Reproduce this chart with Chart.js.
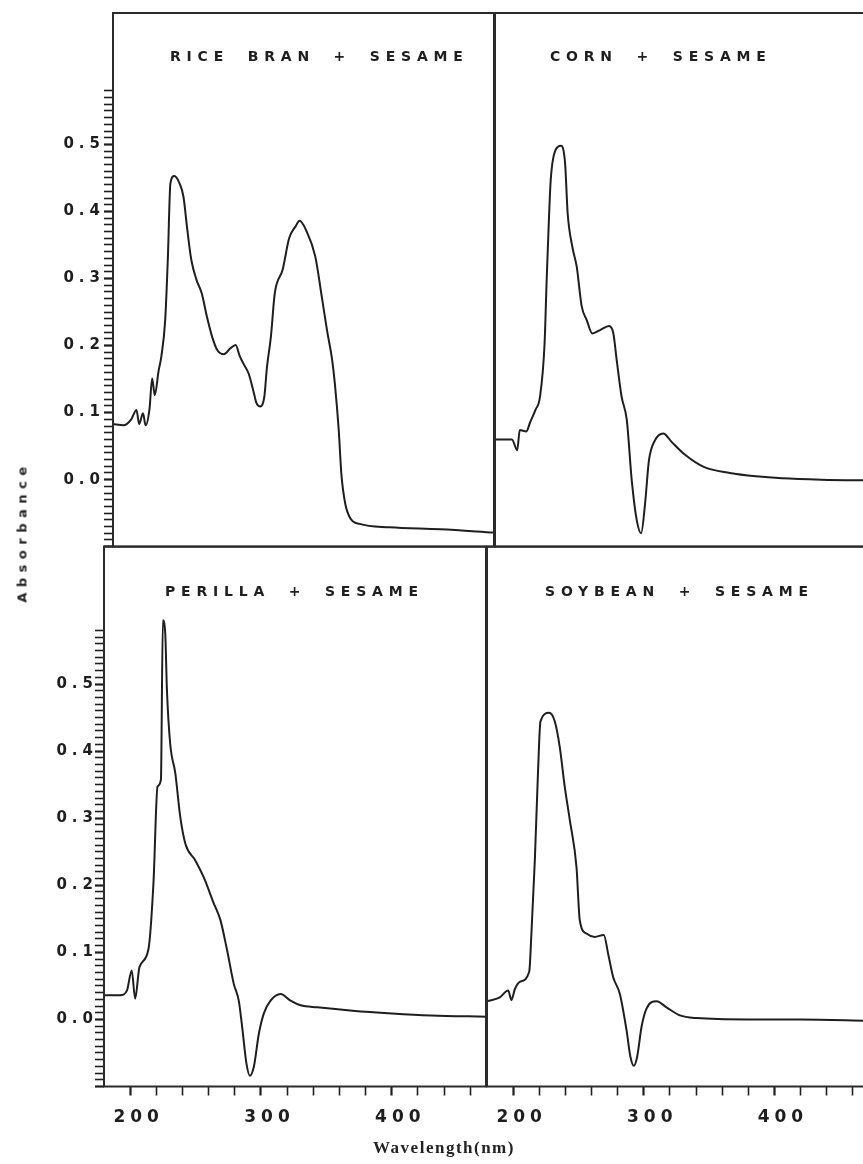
<!DOCTYPE html>
<html lang="en">
<head>
<meta charset="UTF-8">
<title>UV spectra of sesame oil blends</title>
<script src="https://cdn.jsdelivr.net/npm/chart.js"></script>
<style>
  body { margin: 0; background: #fff; }
  #page { position: relative; width: 863px; height: 1164px; overflow: hidden; background: #fff; }
  #page canvas { position: absolute; }
  .axis-title { position: absolute; color: #222; white-space: nowrap; }
  #absTitle {
    left: 22px; top: 532px;
    transform: translate(-50%, -50%) rotate(-90deg);
    font: bold 13px "DejaVu Sans", sans-serif; letter-spacing: 5.5px;
  }
  #nmTitle {
    left: 444px; top: 1148px;
    transform: translate(-50%, -50%);
    font: 600 17px "Liberation Serif", serif; letter-spacing: 1.5px;
  }
</style>
</head>
<body>
<div id="page">
  <canvas id="riceBran" width="500" height="560" style="left:0;top:0"></canvas>
  <canvas id="corn" width="400" height="560" style="left:489px;top:0"></canvas>
  <canvas id="perilla" width="500" height="624" style="left:0;top:540px"></canvas>
  <canvas id="soybean" width="400" height="624" style="left:481px;top:540px"></canvas>
  <div class="axis-title" id="absTitle">Absorbance</div>
  <div class="axis-title" id="nmTitle">Wavelength(nm)</div>
</div>

<script>
// traced spectra: wavelength (nm) and absorbance
const riceBranNm = [180, 188, 194, 198, 200, 203, 205, 208, 210, 212, 215, 217, 220, 222, 224, 227, 231, 234, 237, 240,
  244, 248, 252, 256, 260, 265, 270, 274, 277, 280, 284, 288, 290, 293, 296, 298, 301, 304, 310, 315,
  320, 323, 328, 335, 340, 344, 348, 350, 353, 355, 358, 362, 369, 392, 431, 472];
const riceBranAbs = [0.083, 0.081, 0.090, 0.104, 0.083, 0.099, 0.081, 0.106, 0.151, 0.126, 0.163, 0.183, 0.238, 0.328, 0.442, 0.453, 0.442, 0.422, 0.372, 0.328,
  0.298, 0.278, 0.243, 0.213, 0.193, 0.187, 0.196, 0.201, 0.185, 0.173, 0.158, 0.129, 0.114, 0.109, 0.124, 0.168, 0.213, 0.278, 0.313, 0.360,
  0.378, 0.386, 0.372, 0.333, 0.273, 0.223, 0.178, 0.144, 0.074, 0.009, -0.036, -0.058, -0.066, -0.071, -0.074, -0.079];

const cornNm = [180, 193, 197, 199, 204, 207, 211, 214.5, 218, 219.6, 221, 222.7, 226.5, 230.6, 233.7, 235.7, 239.3, 242.6, 246.5, 250.3,
  254.6, 260.5, 267.4, 270.7, 273.3, 277, 281, 284.8, 288.6, 292, 295, 298, 302.7, 309, 315.5, 325.7, 340, 360, 380, 400, 430, 472];
const cornAbs = [0.060, 0.060, 0.044, 0.074, 0.072, 0.086, 0.104, 0.124, 0.203, 0.298, 0.372, 0.447, 0.492, 0.498, 0.472, 0.397, 0.347, 0.318, 0.258, 0.238,
  0.218, 0.223, 0.229, 0.218, 0.178, 0.124, 0.089, -0.001, -0.060, -0.080, -0.036, 0.029, 0.059, 0.069, 0.056, 0.037, 0.019, 0.010, 0.005, 0.002, 0.000, -0.001];

const perillaNm = [180, 192.3, 197.5, 201.2, 203.8, 207.1, 214, 217.8, 220.9, 223.5, 225, 226.8, 228.1, 230.6, 234.5, 238.3, 242.2, 249.8, 256.2, 263.9,
  269, 274.1, 279.2, 283, 285.6, 288.9, 291.5, 294.5, 298.4, 302.2, 307.3, 315, 322.6, 330.3, 343.1, 370, 400, 430, 472];
const perillaAbs = [0.036, 0.036, 0.043, 0.073, 0.031, 0.078, 0.105, 0.203, 0.347, 0.357, 0.595, 0.576, 0.491, 0.411, 0.367, 0.302, 0.262, 0.237, 0.212, 0.173,
  0.148, 0.103, 0.053, 0.028, -0.011, -0.066, -0.084, -0.071, -0.021, 0.009, 0.028, 0.038, 0.028, 0.021, 0.018, 0.013, 0.009, 0.006, 0.004];

const soybeanNm = [180, 189.8, 196.2, 198.7, 201.3, 205.1, 212.3, 214, 216.6, 219.1, 220.9, 227.5, 231.9, 235.7, 239.5, 243.4, 248.5, 251, 256.1, 262.5,
  269.4, 272.7, 276.6, 281.7, 286.8, 289.8, 292.4, 294.9, 298.3, 302.1, 309.8, 317.4, 327.6, 340.4, 380, 420, 472];
const soybeanAbs = [0.027, 0.033, 0.043, 0.029, 0.045, 0.056, 0.071, 0.128, 0.237, 0.372, 0.444, 0.457, 0.444, 0.406, 0.347, 0.297, 0.227, 0.148, 0.128, 0.123,
  0.126, 0.098, 0.063, 0.038, -0.016, -0.056, -0.069, -0.056, -0.011, 0.016, 0.027, 0.018, 0.006, 0.002, 0.000, 0.000, -0.002];

// axis ticks
const nmTicks = [200, 220, 240, 260, 280, 300, 320, 340, 360, 380, 400, 420, 440, 460];
const nmTickLabels = ['200', '300', '400'];
const absTickLabels = ['0.0', '0.1', '0.2', '0.3', '0.4', '0.5'];

const absTicks = [];
for (let i = -10; i <= 58; i++) absTicks.push(i / 100);

const INK = '#1e1e1e';
const FRAME = '#2b2b2b';
const isTenth = v => Math.abs(v * 10 - Math.round(v * 10)) < 1e-6;

// box around each panel
const panelFrame = {
  id: 'panelFrame',
  afterDraw(chart) {
    const { ctx, chartArea: a } = chart;
    ctx.save();
    ctx.strokeStyle = FRAME;
    ctx.lineWidth = 2;
    ctx.strokeRect(a.left, a.top, a.right - a.left, a.bottom - a.top);
    ctx.restore();
  }
};

// sample name printed inside the panel
const panelTitle = {
  id: 'panelTitle',
  afterDraw(chart, args, opts) {
    const { ctx, chartArea } = chart;
    ctx.save();
    ctx.font = 'bold 14px "DejaVu Sans", sans-serif';
    ctx.letterSpacing = '5.8px';
    ctx.wordSpacing = '8px';
    ctx.fillStyle = INK;
    ctx.textAlign = 'left';
    ctx.textBaseline = 'middle';
    ctx.fillText(opts.text, chartArea.left + opts.dx, chartArea.top + opts.dy);
    ctx.restore();
  }
};

// wide tracking on the tick numbers
const spacedTicks = {
  id: 'spacedTicks',
  beforeDraw(chart) { chart.ctx.letterSpacing = '5px'; }
};

function makePanel(id, nm, abs, cfg) {
  const points = nm.map((x, i) => ({ x, y: abs[i] }));
  const showX = cfg.xHeight > 0;
  const showY = cfg.yWidth > 0;

  return new Chart(document.getElementById(id), {
    type: 'line',
    data: {
      datasets: [{
        data: points,
        borderColor: INK,
        borderWidth: 2,
        pointRadius: 0,
        fill: false,
        cubicInterpolationMode: 'monotone'
      }]
    },
    options: {
      responsive: false,
      animation: false,
      events: [],
      layout: { autoPadding: false, padding: cfg.padding },
      plugins: {
        legend: { display: false },
        tooltip: { enabled: false },
        panelTitle: { text: cfg.title, dx: cfg.titleDx, dy: cfg.titleDy }
      },
      scales: {
        x: {
          type: 'linear',
          min: 180,
          max: 472,
          display: showX,
          border: { display: false },
          grid: {
            drawOnChartArea: false,
            tickLength: 9,
            tickColor: INK,
            tickWidth: c => (c.tick && c.tick.value % 100 === 0 ? 2.2 : 1.6)
          },
          afterBuildTicks: s => { s.ticks = nmTicks.map(v => ({ value: v })); },
          afterFit: s => { if (showX) s.height = cfg.xHeight; },
          ticks: {
            autoSkip: false,
            maxRotation: 0,
            padding: 12,
            labelOffset: 8.5,
            color: INK,
            font: { family: "'DejaVu Sans', sans-serif", weight: 'bold', size: 17 },
            callback: v => (nmTickLabels.includes(String(v)) ? String(v) : '')
          }
        },
        y: {
          type: 'linear',
          min: -0.1,
          max: cfg.absMax,
          display: showY,
          border: { display: false },
          grid: {
            drawOnChartArea: false,
            tickLength: 9,
            tickColor: INK,
            tickWidth: c => (c.tick && isTenth(c.tick.value) ? 2.2 : 1.6)
          },
          afterBuildTicks: s => { s.ticks = absTicks.map(v => ({ value: v })); },
          afterFit: s => { if (showY) s.width = cfg.yWidth; },
          ticks: {
            autoSkip: false,
            padding: cfg.yPad,
            color: INK,
            font: { family: "'DejaVu Sans', sans-serif", weight: 'bold', size: 15 },
            callback: v => {
              const s = v.toFixed(1);
              return isTenth(v) && absTickLabels.includes(s) ? s : '';
            }
          }
        }
      }
    },
    plugins: [spacedTicks, panelFrame, panelTitle]
  });
}

makePanel('riceBran', riceBranNm, riceBranAbs, {
  title: 'RICE BRAN + SESAME', titleDx: 57, titleDy: 44,
  padding: { top: 13, right: 6, bottom: 13.3, left: 0 },
  absMax: 0.696, yWidth: 113, yPad: -1, xHeight: 0
});

makePanel('corn', cornNm, cornAbs, {
  title: 'CORN + SESAME', titleDx: 55, titleDy: 44,
  padding: { top: 13, right: 13, bottom: 13.3, left: 6 },
  absMax: 0.696, yWidth: 0, yPad: 0, xHeight: 0
});

makePanel('perilla', perillaNm, perillaAbs, {
  title: 'PERILLA + SESAME', titleDx: 61, titleDy: 45.5,
  padding: { top: 6.5, right: 14, bottom: 0, left: 0 },
  absMax: 0.705, yWidth: 104, yPad: -3, xHeight: 77.5
});

makePanel('soybean', soybeanNm, soybeanAbs, {
  title: 'SOYBEAN + SESAME', titleDx: 58, titleDy: 45.5,
  padding: { top: 6.5, right: 12.5, bottom: 0, left: 6 },
  absMax: 0.705, yWidth: 0, yPad: 0, xHeight: 77.5
});
</script>
</body>
</html>
